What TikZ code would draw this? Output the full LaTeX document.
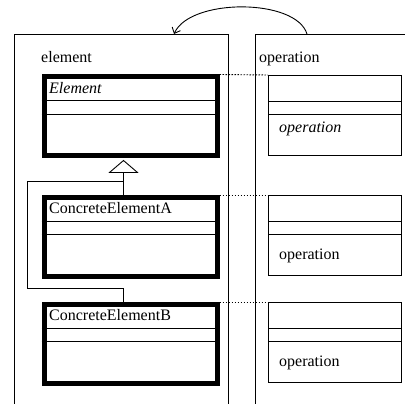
\documentclass[tikz,border=0pt]{standalone}
\usepackage{fontspec}
\setmainfont{Liberation Serif}
\usetikzlibrary{arrows.meta,positioning}

\begin{document}
\begin{tikzpicture}[
  x=1pt, y=-1pt,
  font=\fontsize{16}{19}\selectfont,
  >={Straight Barb[length=5pt,width=9pt]},
  panel/.style={line width=0.9pt},
  classbox/.style={draw, line width=5pt, anchor=north west,
    minimum width=173pt, minimum height=78.5pt, inner sep=0pt},
  opbox/.style={draw, line width=0.9pt, anchor=north west,
    minimum width=133pt, minimum height=80pt, inner sep=0pt},
  txt/.style={anchor=base west, inner sep=0pt},
  link/.style={line width=0.9pt, dash pattern=on 1.5pt off 1.5pt},
]
  \useasboundingbox (0,0) rectangle (405,404);

  % the two panels
  \coordinate (elTop) at (174,34);
  \coordinate (opTop) at (307,34);
  \draw[panel] (14,404) |- (228,34) -- (228,404);
  \draw[panel] (255,404) |- (405,34);
  \node[txt] (elName) at (41,63) {element};
  \node[txt] (opName) at (259,63) {operation};

  % call back from operation to element
  \draw[->, panel] (opTop) .. controls (296,-2) and (190,-2) .. (elTop);

  % element classes (thick) and operation boxes (thin)
  \node[classbox] (cElem) at (41.5,74.5) {};
  \node[classbox] (cA) at (41.5,195) {};
  \node[classbox] (cB) at (41.5,302) {};
  \node[opbox] (oElem) at (268,75) {};
  \node[opbox] (oA) at (268,195) {};
  \node[opbox] (oB) at (268,302) {};

  % compartments
  \foreach \n in {cElem,cA,cB,oElem,oA,oB} {
    \draw[panel] ([yshift=-26pt]\n.north west) -- ([yshift=-26pt]\n.north east);
    \draw[panel] ([yshift=-39.5pt]\n.north west) -- ([yshift=-39.5pt]\n.north east);
  }

  % names
  \node[txt] (nElem) at (49,94) {\itshape Element};
  \node[txt] (nA) at (49,214) {ConcreteElementA};
  \node[txt] (nB) at (49,320) {ConcreteElementB};
  \node[txt] (opElem) at (279,133) {\itshape operation};
  \node[txt] (opA) at (279,259) {operation};
  \node[txt] (opB) at (279,366) {operation};

  % dotted links across the panels
  \foreach \c/\o in {cElem/oElem,cA/oA,cB/oB}
    \draw[link] (\c.north east) -- (\o.north west);

  % inheritance
  \coordinate (tip) at ([xshift=-7pt,yshift=-2.5pt]cElem.south);
  \coordinate (br1) at (27.3,181.7);
  \coordinate (br2) at (27.3,288.3);
  \draw[panel, fill=white] (tip) -- ++(-14,12) -- ++(28,0) -- cycle;
  \draw[panel] ([yshift=-12pt]tip) -- (tip |- cA.north);
  \draw[panel] (br1 -| tip) -- (br1) -- (br2) -- (br2 -| tip) -- (tip |- cB.north);
\end{tikzpicture}
\end{document}
